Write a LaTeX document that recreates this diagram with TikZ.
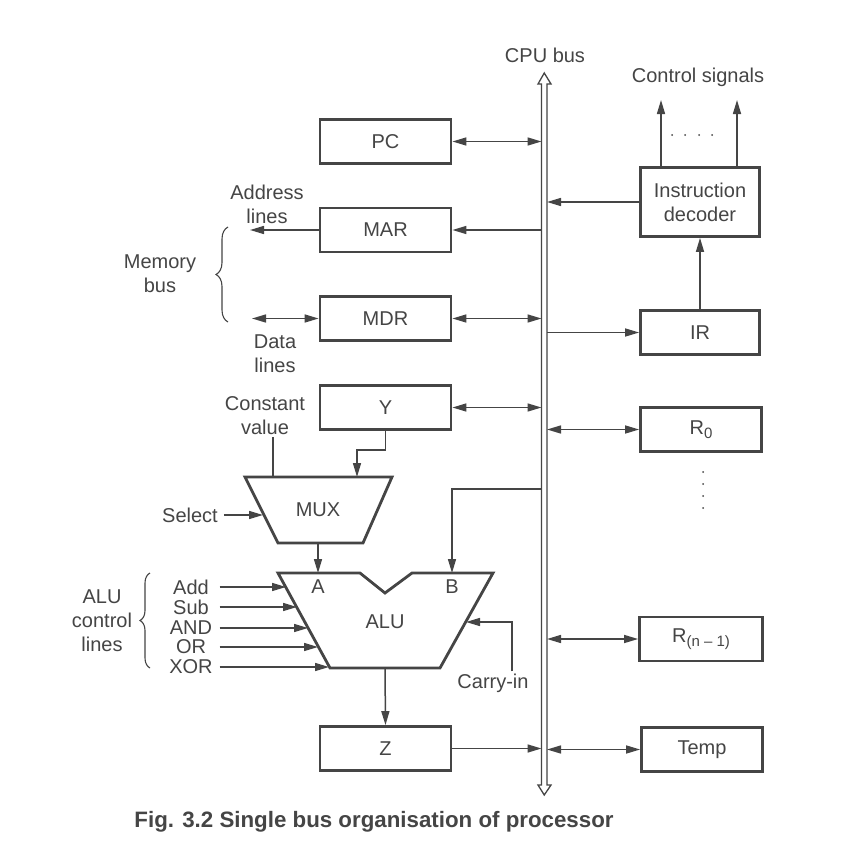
\documentclass[tikz,border=0pt]{standalone}
\usepackage{fontspec}
\setmainfont{Liberation Sans}
\usetikzlibrary{arrows.meta,decorations.pathreplacing}
\definecolor{ink}{HTML}{454545}
\newcommand{\regsub}[1]{\raisebox{-0.4ex}{\fontsize{15}{15}\selectfont #1}}
\tikzset{
  reg/.style={draw=ink,line width=2.8pt,minimum width=131pt,minimum height=44pt,inner sep=0pt,align=center},
  conn/.style={draw=ink,line width=1.5pt},
  lbl/.style={align=center,inner sep=2pt},
  curly/.style={draw=ink,line width=1.1pt,decorate,decoration={brace,amplitude=#1}},
  >={Triangle[length=14pt,width=8pt]},
}

\begin{document}
\begin{tikzpicture}[x=1pt,y=-1pt,font=\fontsize{20}{24}\selectfont,text=ink]
  \useasboundingbox[fill=white] (0,0) rectangle (849,851);
  % the bus
  \coordinate (busL) at (541.5,0);\coordinate (busR) at (547,0);
  \draw[ink,line width=1.3pt](541.5,785)--(541.5,84)--(538,84)--(544.25,73)--(551,84)--(547,84)
    --(547,785)--(551,785)--(544.25,795)--(538,785)--cycle;
  \node[lbl] (buslbl) at (545,55){CPU bus};
  % registers on the left
  \node[reg] (pc) at (385.5,141.5){PC};
  \node[reg] (mar) at (385.5,230){MAR};
  \node[reg] (mdr) at (385.5,318.5){MDR};
  \node[reg] (yreg) at (385.5,407.5){Y};
  \node[reg] (zreg) at (385.5,748.5){Z};
  % registers on the right
  \node[reg,minimum width=119pt,minimum height=69pt] (dec) at (700,202){Instruction\\decoder};
  \node[reg,minimum width=119pt] (ir) at (700,332.5){IR};
  \node[reg,minimum width=121pt] (r0) at (701,429.5){R\regsub{0}};
  \node[reg,minimum width=123pt] (rn) at (701,639){R\regsub{(n -- 1)}};
  \node[reg,minimum width=121pt] (temp) at (702,749.5){Temp};
  % to and from the bus
  \draw[conn,<->](pc.east)--(pc.east -| busL);
  \draw[conn,->](mar.east -| busL)--(mar.east);
  \draw[conn,<->](mdr.east)--(mdr.east -| busL);
  \draw[conn,<->](yreg.east)--(yreg.east -| busL);
  \draw[conn,->](zreg.east)--(zreg.east -| busL);
  \draw[conn,->](dec.west)--(dec.west -| busR);
  \draw[conn,->](ir.west -| busR)--(ir.west);
  \draw[conn,<->](r0.west -| busR)--(r0.west);
  \draw[conn,<->](rn.west -| busR)--(rn.west);
  \draw[conn,<->](temp.west -| busR)--(temp.west);
  \draw[conn,->](ir.north)--(dec.south);
  % control signals
  \coordinate (cs1) at (661,100);\coordinate (cs2) at (737,100);
  \draw[conn,->](dec.north -| cs1)--(cs1);
  \draw[conn,->](dec.north -| cs2)--(cs2);
  \node[lbl] (ctl) at (698,77){Control signals};
  \foreach \xx in {672,685,699,712} \fill[ink](\xx,135) circle (1pt);
  \foreach \yy in {472,484,496,508} \fill[ink](703,\yy) circle (1pt);
  % memory bus
  \coordinate (addr) at (250,230);
  \draw[conn,->](mar.west)--(addr);
  \node[lbl] (addrlbl) at (267,204){Address\\lines};
  \coordinate (data) at (252,318.5);
  \draw[conn,<->](data)--(mdr.west);
  \node[lbl] (datalbl) at (275,354){Data\\lines};
  \draw[curly=12pt](228,322)--(228,227);
  \node[lbl] (membus) at (160,274){Memory\\bus};
  % MUX
  \draw[ink,line width=2.8pt](245,477)--(392,477)--(363,543)--(278,543)--cycle;
  \node (mux) at (318,510){MUX};
  \coordinate (muxA) at (273,477);\coordinate (muxB) at (357,477);
  \coordinate (muxS) at (263,515);\coordinate (muxO) at (318,543);
  \draw[conn,->](yreg.south)--++(0,19)-|(muxB);
  \node[lbl] (cval) at (265,416){Constant\\value};
  \draw[conn](cval.south -| muxA)--(muxA);
  \node[lbl] (sel) at (190,515){Select};
  \draw[conn,->]([xshift=4pt]sel.east)--(muxS);
  % ALU
  \draw[ink,line width=2.8pt](278,573)--(360,573)--(385,593)--(412,573)--(493,573)--(440,668)--(330,668)--cycle;
  \node (alu) at (385,622){ALU};
  \node (alua) at (318,587){A};\node (alub) at (452,587){B};
  \coordinate (aluA) at (318,573);\coordinate (aluB) at (452,573);
  \coordinate (aluC) at (466,622);\coordinate (aluO) at (385,668);
  \draw[conn,->](muxO)--(aluA);
  \coordinate (tapB) at (541.5,489);
  \draw[conn,->](tapB)-|(aluB);
  \node[lbl] (cin) at (493,683){Carry-in};
  \draw[conn,->]([xshift=19pt]cin.north)|-(aluC);
  \draw[conn,->](aluO)--(zreg.north);
  % ALU control lines
  \foreach \name/\yy/\xe [count=\i] in {Add/587/286,Sub/607/297,AND/628/308,OR/647/318,XOR/667/329}{
    \node[lbl,minimum width=57pt,inner sep=0pt] (op\i) at (191,\yy){\name};
    \coordinate (opin\i) at (\xe,\yy);
    \draw[conn,->](op\i.east)--(opin\i);
  }
  \draw[curly=10pt](150,668)--(150,573);
  \node[lbl] (alulines) at (102,621){ALU\\control\\lines};
  % caption
  \node[font=\fontsize{22.3}{26}\selectfont\bfseries] (cap) at (374,822){Fig. 3.2 Single bus organisation of processor};
\end{tikzpicture}
\end{document}
